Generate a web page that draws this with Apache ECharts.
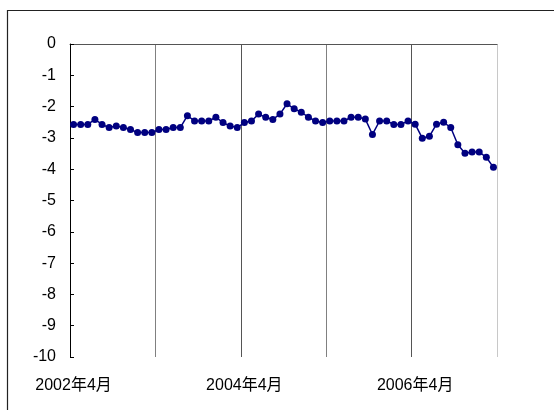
<!DOCTYPE html>
<html><head><meta charset="utf-8">
<script src="https://cdn.jsdelivr.net/npm/echarts@6/dist/echarts.min.js"></script>
<style>html,body{margin:0;padding:0;background:#fff}#c{width:554px;height:410px}</style>
</head><body><div id="c"></div>
<script>
const categories = [
 '2002年4月','2002年5月','2002年6月','2002年7月','2002年8月','2002年9月','2002年10月','2002年11月','2002年12月','2003年1月','2003年2月','2003年3月',
 '2003年4月','2003年5月','2003年6月','2003年7月','2003年8月','2003年9月','2003年10月','2003年11月','2003年12月','2004年1月','2004年2月','2004年3月',
 '2004年4月','2004年5月','2004年6月','2004年7月','2004年8月','2004年9月','2004年10月','2004年11月','2004年12月','2005年1月','2005年2月','2005年3月',
 '2005年4月','2005年5月','2005年6月','2005年7月','2005年8月','2005年9月','2005年10月','2005年11月','2005年12月','2006年1月','2006年2月','2006年3月',
 '2006年4月','2006年5月','2006年6月','2006年7月','2006年8月','2006年9月','2006年10月','2006年11月','2006年12月','2007年1月','2007年2月','2007年3月'
];
const values = [
 -2.57,-2.57,-2.57,-2.41,-2.57,-2.67,-2.62,-2.67,-2.73,-2.83,-2.83,-2.83,
 -2.73,-2.73,-2.67,-2.67,-2.29,-2.46,-2.46,-2.46,-2.34,-2.51,-2.62,-2.67,
 -2.51,-2.46,-2.24,-2.34,-2.41,-2.24,-1.91,-2.07,-2.18,-2.34,-2.46,-2.51,
 -2.46,-2.46,-2.46,-2.34,-2.34,-2.40,-2.89,-2.46,-2.46,-2.57,-2.57,-2.46,
 -2.56,-3.01,-2.95,-2.56,-2.50,-2.67,-3.22,-3.49,-3.45,-3.45,-3.62,-3.94
];
const yMin = -10, yMax = 0, yStep = 1;

const chart = echarts.init(document.getElementById('c'));
const font = 'Liberation Sans, Arial, Noto Sans CJK SC, sans-serif';
chart.setOption({
  animation: false,
  backgroundColor: '#fff',
  graphic: [{type:'rect', shape:{x:7.5,y:10.5,width:600,height:500}, style:{fill:'none', stroke:'#222', lineWidth:1.2}}],
  grid: {left:70, right:57, top:44, bottom:53},
  xAxis: [{
    type:'category', data:categories, boundaryGap:true, position:'bottom',
    axisLine:{show:false}, axisTick:{show:false},
    axisLabel:{interval:23, margin:21, color:'#000', fontSize:16, fontFamily:font},
    splitLine:{show:true, interval:11, lineStyle:{color:['#808080','#808080','#555','#808080','#555','#c8c8c8'], width:1}}
  },{
    type:'category', data:categories, position:'top', boundaryGap:true,
    axisLine:{show:true, onZero:false, lineStyle:{color:'#555', width:1}},
    axisTick:{show:false}, axisLabel:{show:false}, splitLine:{show:false}
  }],
  yAxis: {
    type:'value', min:yMin, max:yMax, interval:yStep,
    axisLine:{show:true, onZero:false, lineStyle:{color:'#000', width:1}},
    axisTick:{show:true, inside:true, length:4, lineStyle:{color:'#000'}},
    axisLabel:{color:'#000', fontSize:16, fontFamily:font, margin:14},
    splitLine:{show:false}
  },
  series: [{
    type:'line', data:values, xAxisIndex:0,
    symbol:'circle', symbolSize:7, showAllSymbol:true,
    lineStyle:{color:'#000080', width:1.5},
    itemStyle:{color:'#000080'}
  }]
});
</script></body></html>
